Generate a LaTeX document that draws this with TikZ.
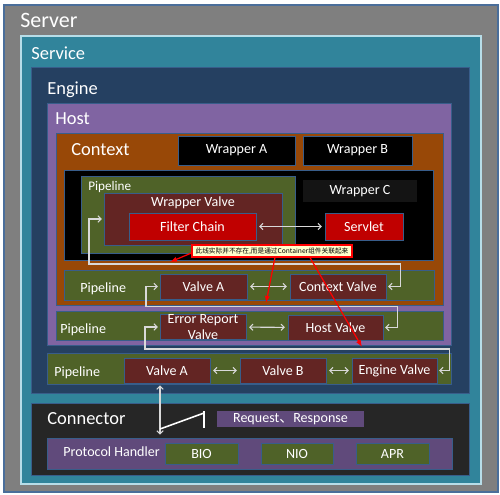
\documentclass[tikz,border=0pt]{standalone}
\usepackage{fontspec}
\setmainfont{Carlito}
\newfontfamily\cjk{Noto Sans CJK SC}
\usepackage{tikz}
\usetikzlibrary{
    calc,
    fit,
    arrows.meta
}
\definecolor{servergray}{HTML}{7F7F7F}
\definecolor{serverline}{HTML}{4A6E9A}
\definecolor{serviceteal}{HTML}{31849B}
\definecolor{serviceline}{HTML}{B7DDE8}
\definecolor{enginenavy}{HTML}{254061}
\definecolor{hostpurple}{HTML}{8064A2}
\definecolor{contextbrown}{HTML}{984807}
\definecolor{pipegreen}{HTML}{4F6228}
\definecolor{valvered}{HTML}{632523}
\definecolor{chainred}{HTML}{C00000}
\definecolor{reqpurple}{HTML}{604A7B}
\definecolor{connectordark}{HTML}{262626}
\definecolor{wrapcgray}{HTML}{141414}
\definecolor{bordblue}{HTML}{385D8A}
\definecolor{loopgray}{HTML}{D9D9D9}
\definecolor{notefill}{HTML}{FFFFCC}
\tikzset{
    box/.style={draw=bordblue, line width=0.5pt, inner sep=0pt},
    sz/.style 2 args={minimum width=#1*0.02cm, minimum height=#2*0.02cm},
    inbox/.style={box, text=white, font=\fontsize{8}{9.5}\selectfont},
    valve/.style={inbox, fill=valvered},
    redbox/.style={inbox, fill=chainred},
    greenbox/.style={inbox, fill=pipegreen},
    wrapbox/.style={inbox, fill=black},
    pipe/.style={box, fill=pipegreen},
    title/.style={text=white, inner sep=0pt, anchor=base west, font=\fontsize{10.5}{12}\selectfont},
    small/.style={text=white, inner sep=0pt, anchor=base west, font=\fontsize{8}{9}\selectfont},
    loopline/.style={draw=loopgray, line width=0.6pt},
    noteline/.style={draw=red, line width=0.7pt, -{Latex[length=4pt,width=3pt]}},
    >={Straight Barb[length=1.8pt,width=3.6pt]}
}

\begin{document}
\begin{tikzpicture}[x=0.02cm, y=-0.02cm]
    \useasboundingbox[fill=white] (0,0) rectangle (500,494);

    % nested containers
    \node[box, draw=serverline, line width=0.8pt, fill=servergray, fit={(4,5) (498,492)}] (server) {};
    \node[title, font=\fontsize{12.5}{14}\selectfont] (serverlbl) at (20,27.3) {Server};
    \node[box, draw=serviceline, line width=1.2pt, fill=serviceteal, fit={(21,36) (481,484)}] (service) {};
    \node[title] (servicelbl) at (31,59) {Service};
    \node[box, fill=enginenavy, fit={(31,67) (469,393)}] (engine) {};
    \node[title] (enginelbl) at (47,94) {Engine};
    \node[box, fill=hostpurple, fit={(47,103) (451,345)}] (host) {};
    \node[title] (hostlbl) at (55,124) {Host};
    \node[box, fill=contextbrown, fit={(56,133) (443,305)}] (context) {};
    \node[title] (contextlbl) at (71,155) {Context};

    % wrappers
    \node[wrapbox, sz={117}{29}] (wrapA) at (236.5,150.5) {Wrapper A};
    \node[wrapbox, sz={109}{29}] (wrapB) at (357.5,150.5) {Wrapper B};
    \node[box, fill=black, fit={(64,170) (433,260)}] (wrapC) {};
    \node[inbox, draw=none, fill=wrapcgray, sz={114}{22}] (wrapClbl) at (360,191) {Wrapper C};
    \node[pipe, fit={(81,176) (295,253)}] (wpipe) {};
    \node[small, font=\fontsize{7.5}{9}\selectfont] (wpipelbl) at (88,190) {Pipeline};
    \node[box, fill=valvered, fit={(104,193) (282,245)}] (wvalve) {};
    \node[small, anchor=base] (wvalvelbl) at ($(wvalve.north)+(0,14)$) {Wrapper Valve};
    \node[redbox, sz={127}{27}] (chain) at (192.5,226.5) {Filter Chain};
    \node[redbox, sz={78}{27}] (servlet) at (364,226.5) {Servlet};

    % context pipeline
    \node[pipe, fit={(64,270) (434,300)}] (cpipe) {};
    \node[small] (cpipelbl) at (80,292.7) {Pipeline};
    \node[valve, sz={87}{25}] (cvalveA) at (203.5,286.5) {Valve A};
    \node[valve, sz={96}{25}] (cvalve) at (338,286.5) {Context Valve};

    % host pipeline
    \node[pipe, fit={(56,311) (443,340)}] (hpipe) {};
    \node[small] (hpipelbl) at (60,333) {Pipeline};
    \node[valve, align=center, sz={86}{24}] (errvalve) at (203,327) {Error Report\\Valve};
    \node[valve, sz={95}{25}] (hvalve) at (335.5,327.5) {Host Valve};

    % engine pipeline
    \node[pipe, fit={(47,353) (451,384)}] (epipe) {};
    \node[small] (epipelbl) at (54,376.5) {Pipeline};
    \node[valve, sz={86}{25}] (evalveA) at (167,370.5) {Valve A};
    \node[valve, sz={86}{25}] (evalveB) at (283,370.5) {Valve B};
    \node[valve, sz={85}{25}] (evalve) at (394.5,370.5) {Engine Valve};

    % connector
    \node[box, fill=connectordark, fit={(31,403) (469,475)}] (connector) {};
    \node[title] (connectorlbl) at (47,424.3) {Connector};
    \node[inbox, draw=none, fill=reqpurple, sz={147}{16}] (req) at (290.5,419) {Request{\cjk 、}Response};
    \node[box, fill=reqpurple, fit={(47,438) (452,469)}] (proto) {};
    \node[small] (protolbl) at (63,456) {Protocol Handler};
    \node[greenbox, sz={73}{21}] (bio) at (201.5,453.5) {BIO};
    \node[greenbox, sz={72}{21}] (nio) at (297,453.5) {NIO};
    \node[greenbox, sz={73}{21}] (apr) at (392.5,453.5) {APR};

    % valve to valve
    \draw[loopline, <->, shorten <=1.5pt, shorten >=1.5pt] (chain) -- (servlet);
    \draw[loopline, <->, shorten <=1.5pt, shorten >=1.5pt] (cvalveA) -- (cvalve);
    \draw[loopline, <->, shorten <=1.5pt, shorten >=1.5pt] (errvalve) -- (hvalve);
    \draw[loopline, <->, shorten <=1.5pt, shorten >=1.5pt] (evalveA) -- (evalveB);
    \draw[loopline, <->, shorten <=1.5pt, shorten >=1.5pt] (evalveB) -- (evalve);

    % pipeline to pipeline
    \draw[loopline, <->, shorten <=1pt, shorten >=1pt] (cvalve.east) -- ++(14,0) |- (89,264) |- (wvalve.west);
    \draw[loopline, <->, shorten <=1pt, shorten >=1pt] (hvalve.east) -- ++(14,0) |- (146,306.5) |- (cvalveA.west);
    \draw[loopline, <->, shorten <=1pt, shorten >=1pt] (evalve.east) -- ++(12,0) |- (145,349) |- (errvalve.west);

    % connector to engine
    \coordinate (swlow) at (160,429);
    \coordinate (swhigh) at (204,413);
    \draw[loopline, <->] ($(evalveA.south)+(-7,2)$) -- ($(proto.north)+(-89.5,-3)$);
    \draw[white, line width=0.9pt] (swlow) -- (swhigh);
    \draw[white, line width=0.9pt] (204,411) -- (204,428);

    % note
    \node[draw=red, line width=0.6pt, fill=notefill, inner sep=0pt, sz={160}{12}, font=\cjk\fontsize{3.8}{4.5}\selectfont] (note) at (272,251) {此线实际并不存在,而是通过Container组件关联起来};
    \coordinate (tipA) at (170,262);
    \coordinate (tipB) at (266,303);
    \coordinate (tipC) at (362,347);
    \draw[noteline] (note.west |- 0,253) -- (tipA);
    \draw[noteline] (note.south -| 275,0) -- (tipB);
    \draw[noteline] (note.south -| 310,0) -- (tipC);
\end{tikzpicture}
\end{document}
